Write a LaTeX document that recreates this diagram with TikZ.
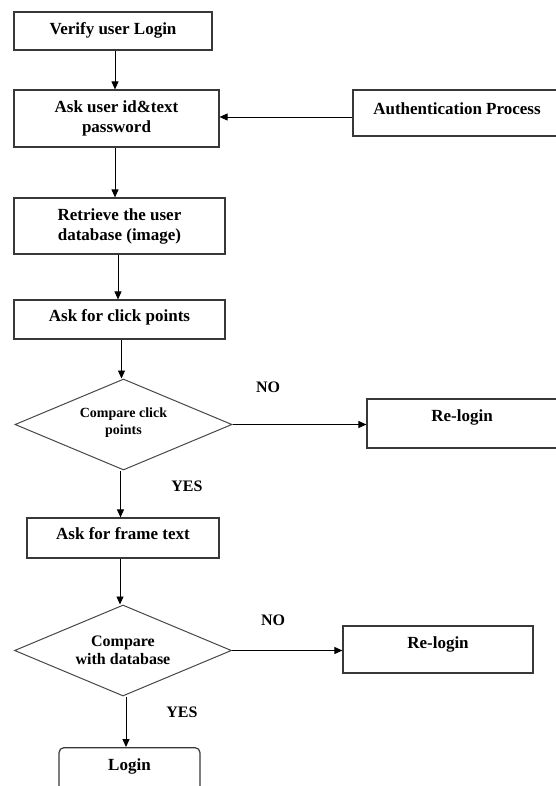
\documentclass[tikz,border=0pt]{standalone}
\usepackage{fontspec}
\setmainfont{Liberation Serif}
\usetikzlibrary{shapes.geometric,arrows.meta}
\begin{document}
\begin{tikzpicture}[x=1pt,y=-1pt,
  box/.style={draw=black!78,line width=1.2pt,rectangle,inner xsep=0pt,align=center,
    font=\fontsize{17}{20}\selectfont\bfseries},
  tb/.style 2 args={text height=#1,text depth=#2,inner ysep=0pt},
  dia/.style={draw=black!72,line width=1pt,diamond,shape aspect=2.4,inner sep=0pt,
    minimum width=217pt,minimum height=91pt,align=center},
  arr/.style={draw=black,line width=0.9pt,-{Triangle[length=8pt,width=7pt]}},
  lbl/.style={font=\fontsize{16}{18}\selectfont\bfseries,inner sep=0pt}]
\useasboundingbox (0,0) rectangle (555,786);
\fill[white] (0,0) rectangle (555,786);
% boxes
\node[box,tb={23pt}{15pt},minimum width=198pt] (b1) at (113,31) {Verify user Login};
\node[box,minimum width=205pt,minimum height=57pt] (b2) at (116.5,118.5) {Ask user id\&text\\password};
\node[box,tb={24.6pt}{21.4pt},minimum width=208pt] (auth) at (457,113) {Authentication Process};
\node[box,minimum width=211pt,minimum height=56pt] (b3) at (119.5,226) {Retrieve the user\\database (image)};
\node[box,tb={21.7pt}{17.3pt},minimum width=211pt] (b4) at (119.5,319.5) {Ask for click points};
\node[dia,font=\fontsize{14}{17}\selectfont\bfseries] (d1) at (123.5,424.5) {Compare click\\points\\[-10pt]\mbox{}};
\node[box,tb={22.5pt}{26.5pt},minimum width=190pt] (r1) at (462,423.5) {Re-login};
\node[box,tb={21pt}{19pt},minimum width=192pt] (b5) at (123,538) {Ask for frame text};
\node[dia,font=\fontsize{16}{17.5}\selectfont\bfseries] (d2) at (123,650.5) {Compare\\with database};
\node[box,tb={22.3pt}{24.7pt},minimum width=190pt] (r2) at (438,649.5) {Re-login};
\node[box,tb={22.7pt}{30pt},minimum width=141pt,rounded corners=5pt] (login) at (129.5,774) {Login};
% labels
\node[lbl] (no1) at (268,387) {NO};
\node[lbl] (yes1) at (187,486) {YES};
\node[lbl] (no2) at (273,620) {NO};
\node[lbl] (yes2) at (182,712) {YES};
% connectors
\draw[arr] ([xshift=2pt]b1.south) -- ([xshift=2pt]b1.south |- b2.north);
\draw[arr] ([xshift=-1.5pt]b2.south) -- ([xshift=-1.5pt]b2.south |- b3.north);
\draw[arr] ([xshift=-1.5pt]b3.south) -- ([xshift=-1.5pt]b3.south |- b4.north);
\draw[arr] ([xshift=-2pt]d1.north |- b4.south) -- ([xshift=-2pt]d1.north);
\draw[arr] (auth.west |- 0,117) -- (b2.east |- 0,117);
\draw[arr] (d1.east) -- (d1.east -| r1.west);
\draw[arr] ([xshift=-3pt]d1.south) -- ([xshift=-3pt]d1.south |- b5.north);
\draw[arr] ([xshift=-3pt]d2.north |- b5.south) -- ([xshift=-3pt]d2.north);
\draw[arr] (d2.east) -- (d2.east -| r2.west);
\draw[arr] ([xshift=3pt]d2.south) -- ([xshift=3pt]d2.south |- login.north);
\end{tikzpicture}
\end{document}
